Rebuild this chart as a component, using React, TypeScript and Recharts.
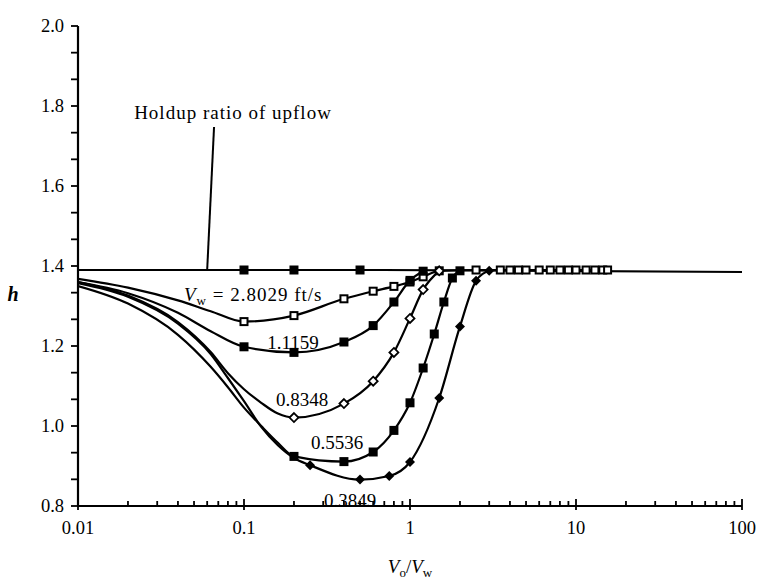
import { LineChart, Line, XAxis, YAxis, ReferenceLine } from 'recharts';

const W = 757;
const H = 583;
const FONT = '"Liberation Serif", "Times New Roman", serif';

// axis ticks
const xMajor = [0.01, 0.1, 1, 10, 100];
const xMinor = [
  0.02, 0.03, 0.04, 0.05, 0.06, 0.07, 0.08, 0.09,
  0.2, 0.3, 0.4, 0.5, 0.6, 0.7, 0.8, 0.9,
  2, 3, 4, 5, 6, 7, 8, 9,
  20, 30, 40, 50, 60, 70, 80, 90,
];
const yMajor = [0.8, 1.0, 1.2, 1.4, 1.6, 1.8, 2.0];
const yMinor = yMajor.slice(0, -1).flatMap((v) => [v + 0.2 / 3, v + 0.4 / 3]);

// holdup ratio of upflow (horizontal line)
const upX = [0.01, 0.1, 0.2, 0.5, 100];
const upH = [1.39, 1.39, 1.39, 1.39, 1.385];
const upMark = [false, true, true, true, false];

// Vw = 2.8029 ft/s  (open squares)
const aFitX = [0.01, 0.02, 0.04, 0.063];
const aFitH = [1.368, 1.346, 1.314, 1.287];
const aX = [0.1, 0.2, 0.4, 0.6, 0.8, 1.0, 1.2, 1.5, 2.5, 3.5, 4, 4.5, 5, 6, 7, 8, 9, 10, 11.5, 13, 14.5, 15.5];
const aH = [1.261, 1.276, 1.318, 1.337, 1.349, 1.36, 1.373, 1.388, 1.39, 1.39, 1.39, 1.39, 1.39, 1.39, 1.39, 1.39, 1.39, 1.39, 1.39, 1.39, 1.39, 1.39];

// Vw = 1.1159 (filled squares)
const bFitX = [0.01, 0.02, 0.04, 0.063];
const bFitH = [1.36, 1.332, 1.283, 1.237];
const bX = [0.1, 0.2, 0.4, 0.6, 0.8, 1.0, 1.2];
const bH = [1.198, 1.184, 1.21, 1.251, 1.31, 1.364, 1.387];

// Vw = 0.8348 (open diamonds)
const cFitX = [0.01, 0.02, 0.04, 0.063, 0.08, 0.1, 0.127, 0.16];
const cFitH = [1.36, 1.326, 1.26, 1.185, 1.132, 1.092, 1.058, 1.031];
const cX = [0.2, 0.4, 0.6, 0.8, 1.0, 1.2, 1.5];
const cH = [1.021, 1.056, 1.112, 1.184, 1.269, 1.341, 1.388];

// Vw = 0.5536 (filled squares)
const dFitX = [0.01, 0.02, 0.04, 0.063, 0.08, 0.1, 0.127, 0.16];
const dFitH = [1.35, 1.306, 1.228, 1.148, 1.097, 1.046, 1.0, 0.958];
const dX = [0.2, 0.4, 0.6, 0.8, 1.0, 1.2, 1.4, 1.6, 1.8, 2.0];
const dH = [0.924, 0.911, 0.935, 0.989, 1.058, 1.145, 1.23, 1.31, 1.37, 1.388];

// Vw = 0.3849 (filled diamonds)
const eFitX = [0.01, 0.02, 0.04, 0.063, 0.08, 0.1, 0.127, 0.16, 0.2];
const eFitH = [1.357, 1.323, 1.256, 1.18, 1.12, 1.062, 0.998, 0.952, 0.92];
const eX = [0.25, 0.5, 0.75, 1.0, 1.5, 2.0, 2.5, 3.0];
const eH = [0.902, 0.866, 0.875, 0.91, 1.07, 1.249, 1.363, 1.388];

type Row = { x: number; h: number; m: boolean };
type Shape = 'sqFill' | 'sqOpen' | 'diaFill' | 'diaOpen';

const rows = (fx: number[], fh: number[], mx: number[], mh: number[]): Row[] => [
  ...fx.map((x, i) => ({ x, h: fh[i], m: false })),
  ...mx.map((x, i) => ({ x, h: mh[i], m: true })),
];

const upRows: Row[] = upX.map((x, i) => ({ x, h: upH[i], m: upMark[i] }));

const SERIES: { name: string; data: Row[]; shape: Shape }[] = [
  { name: 'up', data: upRows, shape: 'sqFill' },
  { name: 'a', data: rows(aFitX, aFitH, aX, aH), shape: 'sqOpen' },
  { name: 'b', data: rows(bFitX, bFitH, bX, bH), shape: 'sqFill' },
  { name: 'c', data: rows(cFitX, cFitH, cX, cH), shape: 'diaOpen' },
  { name: 'd', data: rows(dFitX, dFitH, dX, dH), shape: 'sqFill' },
  { name: 'e', data: rows(eFitX, eFitH, eX, eH), shape: 'diaFill' },
];

const makeDot = (shape: Shape, name: string) => (p: any) => {
  const { cx, cy, index, payload } = p;
  const k = `${name}-${index}`;
  if (!payload?.m || cx == null || cy == null) return <g key={k} />;
  if (shape === 'sqFill')
    return <rect key={k} x={cx - 4.5} y={cy - 4.5} width={9} height={9} fill="#000" />;
  if (shape === 'sqOpen')
    return <rect key={k} x={cx - 3.5} y={cy - 3.5} width={7} height={7} fill="#fff" stroke="#000" strokeWidth={2} />;
  if (shape === 'diaFill')
    return <polygon key={k} points={`${cx},${cy - 5} ${cx + 5},${cy} ${cx},${cy + 5} ${cx - 5},${cy}`} fill="#000" />;
  return (
    <polygon key={k} points={`${cx},${cy - 4.5} ${cx + 4.5},${cy} ${cx},${cy + 4.5} ${cx - 4.5},${cy}`}
      fill="#fff" stroke="#000" strokeWidth={1.8} />
  );
};

const XTick = ({ x, y, payload }: any) => {
  const v = payload.value;
  const major = xMajor.includes(v);
  return (
    <g>
      <line x1={x} x2={x} y1={major ? y + 4 : y} y2={y - (major ? 7 : 5)} stroke="#000" strokeWidth={1.8} />
      {major && (
        <text x={x} y={y + 22} textAnchor="middle" dominantBaseline="central"
          fontFamily={FONT} fontSize={18.5} fill="#000">{String(v)}</text>
      )}
    </g>
  );
};

const YTick = ({ x, y, payload }: any) => {
  const v = payload.value;
  const major = yMajor.some((m) => Math.abs(m - v) < 1e-6);
  return (
    <g>
      <line x1={x - 7} x2={x} y1={y} y2={y} stroke="#000" strokeWidth={1.8} />
      {major && (
        <text x={x - 14} y={y} textAnchor="end" dominantBaseline="central"
          fontFamily={FONT} fontSize={18.5} fill="#000">{v.toFixed(1)}</text>
      )}
    </g>
  );
};

const txt = { fontFamily: FONT, fontSize: 19, fill: '#000' } as const;

export default function App() {
  return (
    <div style={{ position: 'absolute', left: 0, top: 0, width: W, height: H, background: '#fff' }}>
      <LineChart width={W} height={H} margin={{ top: 26, right: 15, bottom: 0, left: 0 }}>
        <XAxis dataKey="x" type="number" scale="log" domain={[0.01, 100]} allowDataOverflow
          ticks={[...xMajor, ...xMinor]} interval={0} tick={<XTick />} tickLine={false}
          tickSize={0} tickMargin={0} height={77} axisLine={{ stroke: '#000', strokeWidth: 2.2 }} />
        <YAxis type="number" domain={[0.8, 2.0]} allowDataOverflow
          ticks={[...yMajor, ...yMinor]} interval={0} tick={<YTick />} tickLine={false}
          tickSize={0} tickMargin={0} width={78} axisLine={{ stroke: '#000', strokeWidth: 2.2 }} />
        <ReferenceLine segment={[{ x: 0.066, y: 1.7475 }, { x: 0.06, y: 1.39 }]}
          stroke="#000" strokeWidth={2} />
        {SERIES.map((s) => (
          <Line key={s.name} data={s.data} dataKey="h" type="monotone" stroke="#000" strokeWidth={2.2}
            dot={makeDot(s.shape, s.name)} activeDot={false} isAnimationActive={false} />
        ))}
      </LineChart>
      <svg width={W} height={H} style={{ position: 'absolute', left: 0, top: 0, pointerEvents: 'none' }}>
        <text x={233} y={112} textAnchor="middle" dominantBaseline="central" {...txt} letterSpacing={1}>
          Holdup ratio of upflow
        </text>
        <text x={184} y={301} {...txt} letterSpacing={1}>
          <tspan fontStyle="italic">V</tspan>
          <tspan fontSize={13} dy={4}>w</tspan>
          <tspan dy={-4}> = 2.8029 ft/s</tspan>
        </text>
        <text x={293} y={342} textAnchor="middle" dominantBaseline="central" {...txt}>1.1159</text>
        <text x={302} y={399} textAnchor="middle" dominantBaseline="central" {...txt}>0.8348</text>
        <text x={337} y={442} textAnchor="middle" dominantBaseline="central" {...txt}>0.5536</text>
        <text x={350} y={500} textAnchor="middle" dominantBaseline="central" {...txt}>0.3849</text>
        <text x={13} y={301} textAnchor="middle" {...txt} fontSize={20} fontStyle="italic" fontWeight="bold">h</text>
        <text x={410} y={573} textAnchor="middle" {...txt}>
          <tspan fontStyle="italic">V</tspan>
          <tspan fontSize={13} dy={4}>o</tspan>
          <tspan dy={-4}>/</tspan>
          <tspan fontStyle="italic">V</tspan>
          <tspan fontSize={13} dy={4}>w</tspan>
        </text>
      </svg>
    </div>
  );
}
